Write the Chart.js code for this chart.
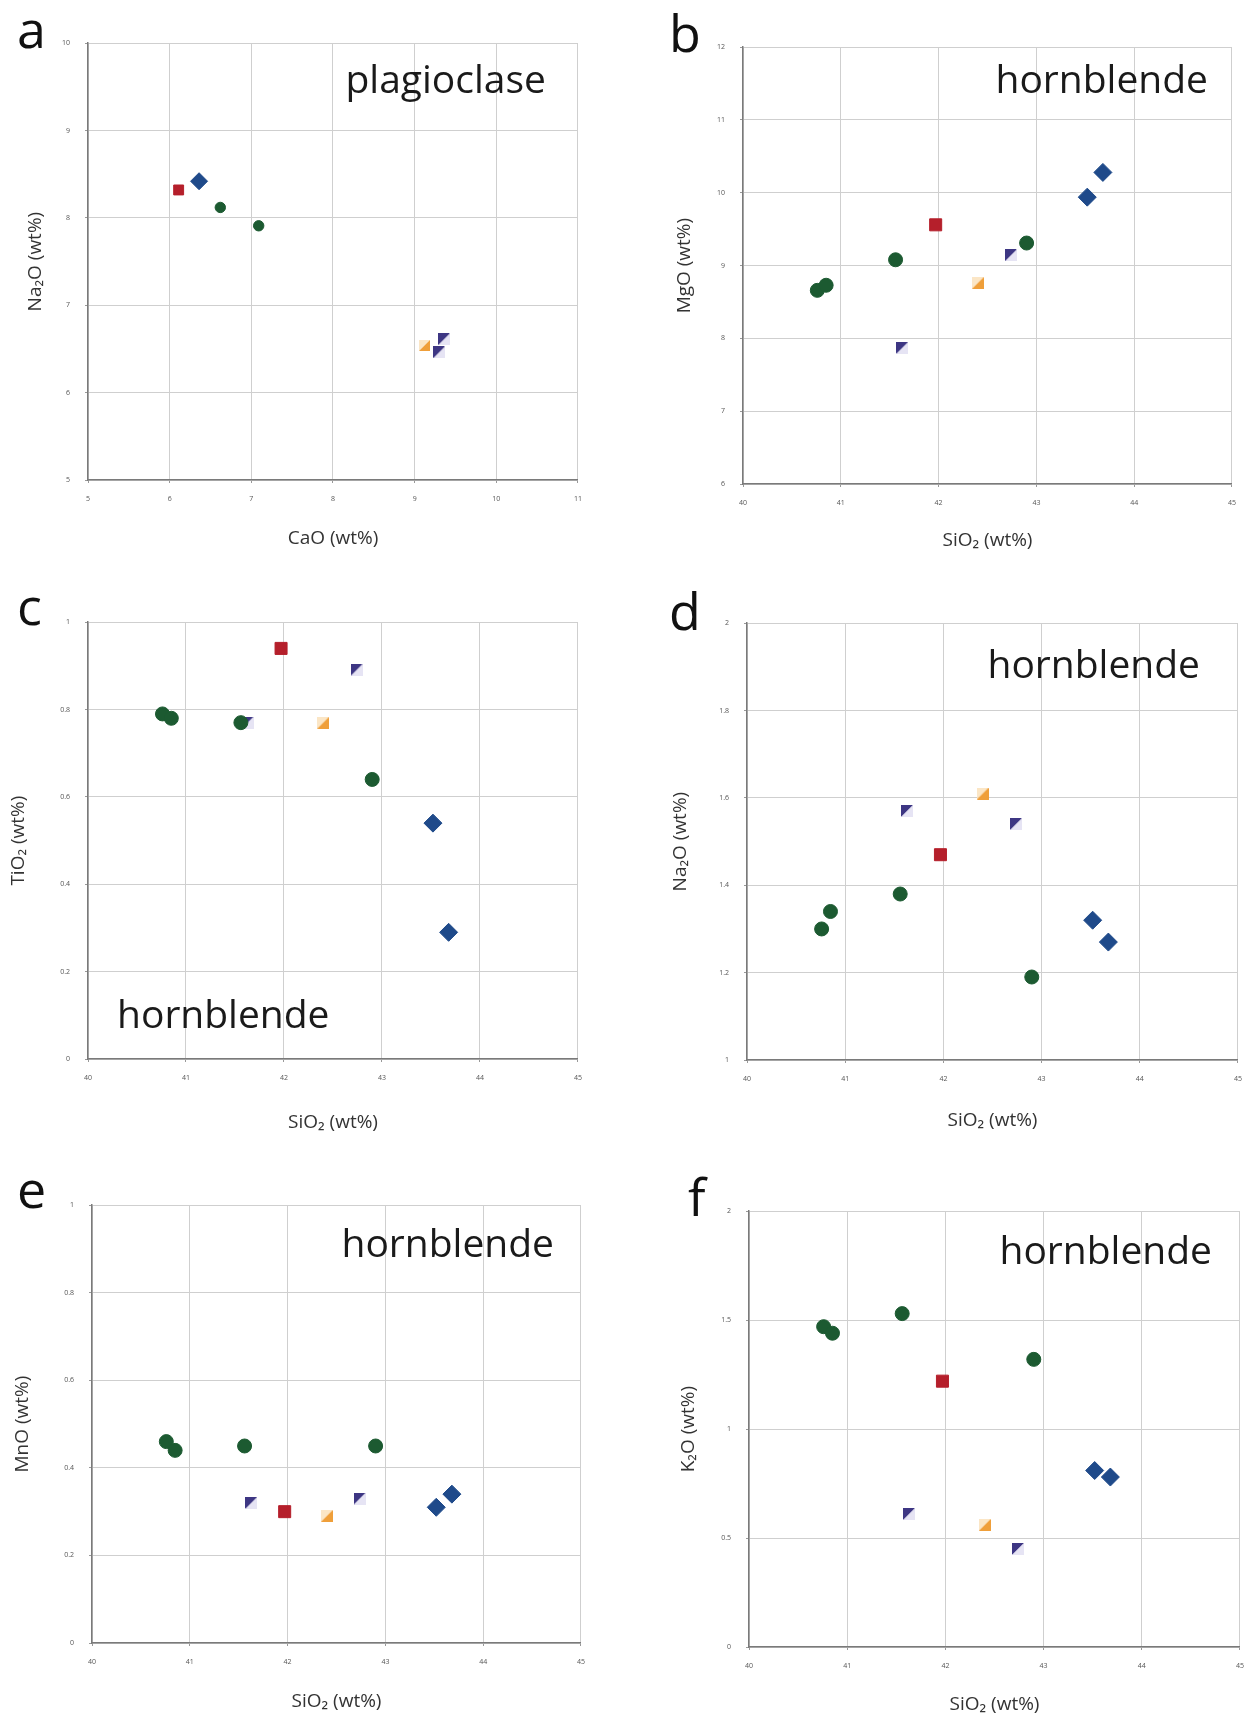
<!DOCTYPE html>
<html>
<head>
<meta charset="utf-8">
<script src="https://cdn.jsdelivr.net/npm/chart.js@4.4.1/dist/chart.umd.min.js"></script>
<style>
  body { margin: 0; background: #fff; }
  #page { position: relative; width: 1253px; height: 1721px; overflow: hidden; font-family: "Open Sans", sans-serif; }
  .panel { position: absolute; }
  .letter { position: absolute; font-size: 52px; line-height: 52px; color: #111; }
</style>
</head>
<body>
<div id="page"></div>
<script>
// plagioclase analyses (panel a)
const plagGroup = ['red', 'blue', 'green', 'green', 'orange', 'purple', 'purple'];
const plagCaO   = [6.11, 6.36, 6.62, 7.09, 9.12, 9.36, 9.30];
const plagNa2O  = [8.32, 8.42, 8.12, 7.91, 6.54, 6.61, 6.46];

// hornblende analyses (panels b-f)
const hbGroup = ['green', 'green', 'green', 'green', 'red', 'orange', 'purple', 'purple', 'blue', 'blue'];
const hbSiO2  = [40.76, 40.85, 41.56, 42.90, 41.97, 42.40, 41.63, 42.74, 43.52, 43.68];
const hbMgO   = [8.66, 8.73, 9.08, 9.31, 9.56, 8.76, 7.87, 9.14, 9.94, 10.28];
const hbTiO2  = [0.79, 0.78, 0.77, 0.64, 0.94, 0.77, 0.77, 0.89, 0.54, 0.29];
const hbNa2O  = [1.30, 1.34, 1.38, 1.19, 1.47, 1.61, 1.57, 1.54, 1.32, 1.27];
const hbMnO   = [0.46, 0.44, 0.45, 0.45, 0.30, 0.29, 0.32, 0.33, 0.31, 0.34];
const hbK2O   = [1.47, 1.44, 1.53, 1.32, 1.22, 0.56, 0.61, 0.45, 0.81, 0.78];

// tick labels
const ticksCaO      = [5, 6, 7, 8, 9, 10, 11];
const ticksNa2OPlag = [5, 6, 7, 8, 9, 10];
const ticksSiO2     = [40, 41, 42, 43, 44, 45];
const ticksMgO      = [6, 7, 8, 9, 10, 11, 12];
const ticksTiO2     = [0, 0.2, 0.4, 0.6, 0.8, 1];
const ticksNa2OHb   = [1, 1.2, 1.4, 1.6, 1.8, 2];
const ticksMnO      = [0, 0.2, 0.4, 0.6, 0.8, 1];
const ticksK2O      = [0, 0.5, 1, 1.5, 2];

function halfMarker(size, upperLeft, lowerRight) {
    const c = document.createElement('canvas');
    c.width = size; c.height = size;
    const g = c.getContext('2d');
    g.fillStyle = upperLeft;
    g.beginPath(); g.moveTo(0, 0); g.lineTo(size, 0); g.lineTo(0, size); g.closePath(); g.fill();
    g.fillStyle = lowerRight;
    g.beginPath(); g.moveTo(size, 0); g.lineTo(size, size); g.lineTo(0, size); g.closePath(); g.fill();
    return c;
}

// marker look for each sample group (r = hornblende size, rp = plagioclase size)
const markers = {
    green:  { style: 'circle',  color: '#1c5a31', r: 7, rp: 5.2 },
    red:    { style: 'rect',    color: '#b51f2b', r: 8.5, rp: 7 },
    blue:   { style: 'rectRot', color: '#1f4a8a', r: 9, rp: 8.5 },
    orange: { img: ['#fbe6c6', '#ef9f3a'], s: 12, sp: 11 },
    purple: { img: ['#3d3683', '#e6e4f4'], s: 12, sp: 12 }
};
const groupOrder = ['green', 'red', 'orange', 'purple', 'blue'];

const titleSize = 19;

const panels = [
    { letter: 'a', lx: 17, ly: 2, text: 'plagioclase', anchor: 'tr', tdx: 32, tdy: 50, plag: true,
      box: { L: 88, R: 584, T: 36, B: 480, yt: 35, xt: 539 },
      x: plagCaO, y: plagNa2O, groups: plagGroup, xt: ticksCaO, yt: ticksNa2OPlag,
      xTitle: 'CaO (wt%)', yTitle: 'Na₂O (wt%)' },
    { letter: 'b', lx: 669, ly: 6, text: 'hornblende', anchor: 'tr', tdx: 24, tdy: 46,
      box: { L: 743, R: 1238, T: 40, B: 484, yt: 684, xt: 541 },
      x: hbSiO2, y: hbMgO, groups: hbGroup, xt: ticksSiO2, yt: ticksMgO,
      xTitle: 'SiO₂ (wt%)', yTitle: 'MgO (wt%)' },
    { letter: 'c', lx: 17, ly: 579, text: 'hornblende', anchor: 'bl', tdx: 29, tdy: 31,
      box: { L: 88, R: 584, T: 615, B: 1059, yt: 18, xt: 1123 },
      x: hbSiO2, y: hbTiO2, groups: hbGroup, xt: ticksSiO2, yt: ticksTiO2,
      xTitle: 'SiO₂ (wt%)', yTitle: 'TiO₂ (wt%)' },
    { letter: 'd', lx: 669, ly: 584, text: 'hornblende', anchor: 'tr', tdx: 38, tdy: 55,
      box: { L: 747, R: 1244, T: 616, B: 1060, yt: 680, xt: 1121 },
      x: hbSiO2, y: hbNa2O, groups: hbGroup, xt: ticksSiO2, yt: ticksNa2OHb,
      xTitle: 'SiO₂ (wt%)', yTitle: 'Na₂O (wt%)' },
    { letter: 'e', lx: 17, ly: 1162, text: 'hornblende', anchor: 'tr', tdx: 27, tdy: 52,
      box: { L: 92, R: 587, T: 1198, B: 1643, yt: 22, xt: 1702 },
      x: hbSiO2, y: hbMnO, groups: hbGroup, xt: ticksSiO2, yt: ticksMnO,
      xTitle: 'SiO₂ (wt%)', yTitle: 'MnO (wt%)' },
    { letter: 'f', lx: 688, ly: 1170, text: 'hornblende', anchor: 'tr', tdx: 28, tdy: 53,
      box: { L: 749, R: 1246, T: 1204, B: 1647, yt: 688, xt: 1705 },
      x: hbSiO2, y: hbK2O, groups: hbGroup, xt: ticksSiO2, yt: ticksK2O,
      xTitle: 'SiO₂ (wt%)', yTitle: 'K₂O (wt%)' }
];

const page = document.getElementById('page');

// mineral name written inside the plot frame
const mineralLabel = {
    id: 'mineralLabel',
    afterDraw(chart, args, opts) {
        const { ctx, chartArea } = chart;
        ctx.save();
        ctx.font = '39px "Open Sans", sans-serif';
        ctx.fillStyle = '#1a1a1a';
        ctx.textBaseline = 'alphabetic';
        if (opts.anchor === 'tr') {
            ctx.textAlign = 'right';
            ctx.fillText(opts.text, chartArea.right - opts.dx, chartArea.top + opts.dy);
        } else {
            ctx.textAlign = 'left';
            ctx.fillText(opts.text, chartArea.left + opts.dx, chartArea.bottom - opts.dy);
        }
        ctx.restore();
    }
};

function axis(ticks, title, fixed, isX) {
    return {
        type: 'linear',
        min: ticks[0],
        max: ticks[ticks.length - 1],
        afterBuildTicks: s => { s.ticks = ticks.map(v => ({ value: v })); },
        afterFit: s => { if (isX) s.height = fixed; else s.width = fixed; },
        grid: { color: '#cfcfcf', lineWidth: 1, tickLength: 3, tickColor: '#999' },
        border: { color: '#7a7a7a', width: 1.5 },
        ticks: {
            autoSkip: false, maxRotation: 0,
            padding: isX ? 12 : 15,
            color: '#555',
            font: { size: 7, family: '"Open Sans", sans-serif' },
            callback: v => String(+v.toFixed(2))
        },
        title: {
            display: true, text: title, color: '#333',
            font: { size: titleSize, family: '"Open Sans", sans-serif' }
        }
    };
}

panels.forEach(p => {
    const off = titleSize * 0.6 + 4;
    const left = Math.round(p.box.yt - off);
    const top = p.box.T - 12;
    const right = p.box.R + 10;
    const bottom = Math.round(p.box.xt + off);

    const wrap = document.createElement('div');
    wrap.className = 'panel';
    wrap.style.left = left + 'px';
    wrap.style.top = top + 'px';
    wrap.style.width = (right - left) + 'px';
    wrap.style.height = (bottom - top) + 'px';
    const canvas = document.createElement('canvas');
    wrap.appendChild(canvas);
    page.appendChild(wrap);

    const letter = document.createElement('div');
    letter.className = 'letter';
    letter.textContent = p.letter;
    letter.style.left = p.lx + 'px';
    letter.style.top = p.ly + 'px';
    page.appendChild(letter);

    const datasets = groupOrder.filter(g => p.groups.includes(g)).map(g => {
        const m = markers[g];
        const data = [];
        p.groups.forEach((grp, i) => { if (grp === g) data.push({ x: p.x[i], y: p.y[i] }); });
        if (m.img) {
            const s = p.plag ? m.sp : m.s;
            return { label: g, data, pointStyle: halfMarker(s, m.img[0], m.img[1]), pointRadius: s / 2 };
        }
        return {
            label: g, data,
            pointStyle: m.style,
            pointRadius: p.plag ? m.rp : m.r,
            backgroundColor: m.color,
            borderColor: m.color,
            borderWidth: 1
        };
    });

    new Chart(canvas, {
        type: 'scatter',
        data: { datasets },
        options: {
            responsive: true,
            maintainAspectRatio: false,
            animation: false,
            layout: { padding: { left: 0, top: 12, right: 10, bottom: 0 } },
            scales: {
                x: axis(p.xt, p.xTitle, bottom - p.box.B, true),
                y: axis(p.yt, p.yTitle, p.box.L - left, false)
            },
            plugins: {
                legend: { display: false },
                tooltip: { enabled: false },
                mineralLabel: { text: p.text, anchor: p.anchor, dx: p.tdx, dy: p.tdy }
            }
        },
        plugins: [mineralLabel]
    });
});
</script>
</body>
</html>
